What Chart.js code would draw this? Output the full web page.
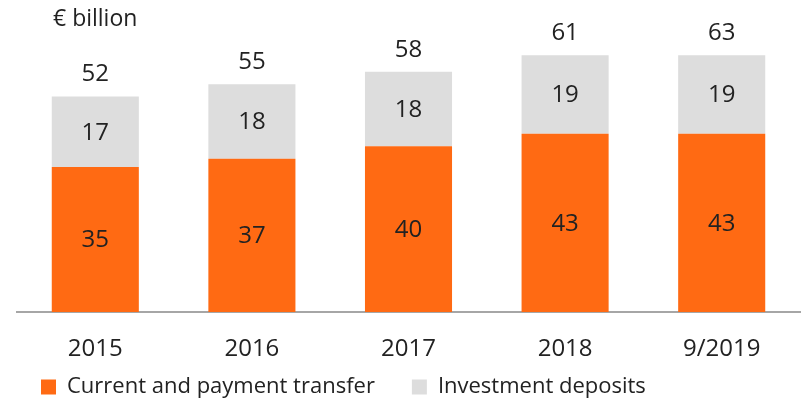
<!DOCTYPE html>
<html>
<head>
<meta charset="utf-8">
<script src="https://cdn.jsdelivr.net/npm/chart.js@4/dist/chart.umd.min.js"></script>
<style>
  html, body { margin: 0; padding: 0; background: #fff; }
  #wrap { width: 801px; height: 401px; position: relative; }
</style>
</head>
<body>
<div id="wrap"><canvas id="c"></canvas></div>
<script>
const categories = ['2015', '2016', '2017', '2018', '9/2019'];
const currentPayment = [35, 37, 40, 43, 43];
const investmentDeposits = [17, 18, 18, 19, 19];
const totals = [52, 55, 58, 61, 63];
const unitLabel = '€ billion';
const seriesNames = ['Current and payment transfer', 'Investment deposits'];

const FONT = '"Open Sans", "Noto Sans", sans-serif';
const TEXT = '#222222';
Chart.defaults.font.family = FONT;
Chart.defaults.color = TEXT;

const valueLabels = {
  id: 'valueLabels',
  afterDatasetsDraw(chart) {
    const ctx = chart.ctx;
    ctx.save();
    ctx.font = '24px ' + FONT;
    ctx.fillStyle = TEXT;
    ctx.textAlign = 'center';
    ctx.textBaseline = 'middle';
    chart.data.datasets.forEach((ds, di) => {
      const meta = chart.getDatasetMeta(di);
      meta.data.forEach((bar, i) => {
        ctx.fillText(String(ds.data[i]), bar.x, (bar.y + bar.base) / 2 + 1);
      });
    });
    const topMeta = chart.getDatasetMeta(chart.data.datasets.length - 1);
    topMeta.data.forEach((bar, i) => {
      ctx.fillText(String(totals[i]), bar.x, bar.y - 22);
    });
    ctx.textAlign = 'left';
    ctx.font = '23px ' + FONT;
    ctx.fillText(unitLabel, chart.chartArea.left + 36, 19);
    ctx.restore();
  }
};

new Chart(document.getElementById('c'), {
  type: 'bar',
  data: {
    labels: categories,
    datasets: [
      { label: seriesNames[0], data: currentPayment, backgroundColor: '#FF6A13', borderWidth: 0 },
      { label: seriesNames[1], data: investmentDeposits, backgroundColor: '#DDDDDD', borderWidth: 0 }
    ]
  },
  options: {
    responsive: true,
    maintainAspectRatio: false,
    animation: false,
    layout: { padding: { left: 4, right: 1, top: 22, bottom: -7 } },
    datasets: { bar: { barPercentage: 0.556, categoryPercentage: 1 } },
    scales: {
      x: {
        stacked: true,
        grid: { display: false, drawTicks: false },
        border: { display: true, color: '#A6A6A6', width: 2 },
        ticks: { font: { size: 24, lineHeight: 0.25 }, color: TEXT, padding: -40, mirror: true },
        afterFit(scale) { scale.height = 27; }
      },
      y: {
        stacked: true,
        display: true,
        min: 0,
        max: 70,
        grid: { display: false, drawTicks: false },
        border: { display: false },
        ticks: { display: false },
        afterFit(scale) { scale.width = 13; }
      }
    },
    plugins: {
      legend: {
        position: 'bottom',
        align: 'start',
        labels: { boxWidth: 15, boxHeight: 15, padding: 37, font: { size: 22 }, color: TEXT }
      },
      tooltip: { enabled: false }
    }
  },
  plugins: [valueLabels]
});
</script>
</body>
</html>
